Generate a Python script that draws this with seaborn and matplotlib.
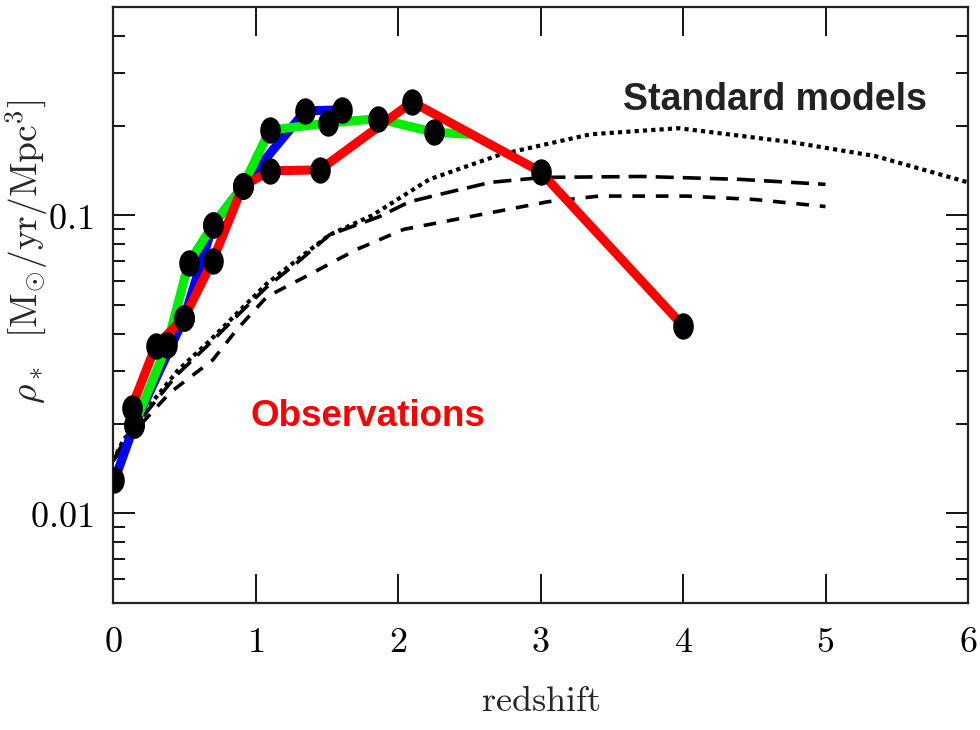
import numpy as np
import pandas as pd
import matplotlib
matplotlib.use("Agg")
import matplotlib.pyplot as plt
from matplotlib.path import Path
from matplotlib.ticker import FixedLocator, FixedFormatter, LogLocator, NullFormatter
import seaborn as sns

# ---------------- data ----------------
blue_z = [0.01, 0.15, 0.50, 0.70, 0.91, 1.35, 1.61]
blue_sfr = [0.0129, 0.0198, 0.0453, 0.0925, 0.125, 0.224, 0.226]

green_z = [0.15, 0.38, 0.53, 0.70, 0.91, 1.10, 1.51, 1.86, 2.25, 2.50]
green_sfr = [0.0198, 0.0367, 0.069, 0.0925, 0.125, 0.193, 0.204, 0.211, 0.190, 0.187]
green_dot = [True, True, True, True, True, True, True, True, True, False]

red_z = [0.13, 0.30, 0.50, 0.70, 0.91, 1.10, 1.45, 2.10, 3.00, 4.00]
red_sfr = [0.0226, 0.0365, 0.0453, 0.0705, 0.125, 0.141, 0.142, 0.240, 0.140, 0.0426]

dotted_z = [0.0, 0.07, 0.24, 0.45, 0.68, 0.91, 1.08, 1.31, 1.52, 1.82, 2.22, 2.72,
            3.35, 3.97, 4.76, 5.35, 6.0]
dotted_sfr = [0.0150, 0.0175, 0.0225, 0.0300, 0.0380, 0.0490, 0.0590, 0.0720, 0.0860,
              0.100, 0.132, 0.160, 0.187, 0.196, 0.176, 0.158, 0.129]

dash1_z = [0.0, 0.07, 0.24, 0.45, 0.68, 0.91, 1.08, 1.31, 1.52, 1.87, 2.08, 2.34,
           2.65, 3.02, 3.71, 4.40, 5.0]
dash1_sfr = [0.0150, 0.0172, 0.0220, 0.0292, 0.0372, 0.0480, 0.0575, 0.0705, 0.0860,
             0.099, 0.111, 0.119, 0.129, 0.134, 0.135, 0.132, 0.127]

dash2_z = [0.0, 0.20, 0.40, 0.70, 0.87, 1.08, 1.38, 1.71, 2.04, 2.41, 3.05, 3.41,
           4.03, 4.50, 5.0]
dash2_sfr = [0.0150, 0.0200, 0.0254, 0.0327, 0.0414, 0.0533, 0.0633, 0.0768, 0.0897,
             0.097, 0.111, 0.116, 0.116, 0.113, 0.107]

x_ticks = [0, 1, 2, 3, 4, 5, 6]
y_major = [0.01, 0.1]
y_major_labels = ["$0.01$", "$0.1$"]

# ---------------- style ----------------
sns.set_theme(style="ticks")
plt.rcParams["mathtext.fontset"] = "cm"
plt.rcParams["font.family"] = ["DejaVu Sans"]

fig = plt.figure(figsize=(9.8, 7.3), dpi=100)
ax = fig.add_axes([113 / 980, 1 - 603 / 730, (968 - 113) / 980, (603 - 7) / 730])

def frame(z, v, name):
    return pd.DataFrame({"z": z, "sfr": v, "series": name})

# model curves
sns.lineplot(data=frame(dotted_z, dotted_sfr, "dot"), x="z", y="sfr", ax=ax,
             color="black", lw=3.0, linestyle=(0, (1.0, 1.0)), sort=False,
             estimator=None, zorder=2)
sns.lineplot(data=frame(dash1_z, dash1_sfr, "d1"), x="z", y="sfr", ax=ax,
             color="black", lw=2.6, linestyle=(0, (5.0, 2.5)), sort=False,
             estimator=None, zorder=2)
sns.lineplot(data=frame(dash2_z, dash2_sfr, "d2"), x="z", y="sfr", ax=ax,
             color="black", lw=2.6, linestyle=(0, (3.5, 3.0)), sort=False,
             estimator=None, zorder=2)

# observations
for z, v, c, zo in [(blue_z, blue_sfr, "#0000ff", 3),
                    (green_z, green_sfr, "#00ee00", 4),
                    (red_z, red_sfr, "#ff0000", 5)]:
    sns.lineplot(data=frame(z, v, c), x="z", y="sfr", ax=ax, color=c, lw=6.5,
                 sort=False, estimator=None, zorder=zo,
                 solid_capstyle="round", solid_joinstyle="round")

# black elliptical dots
theta = np.linspace(0, 2 * np.pi, 40)
ellipse = Path(np.column_stack([0.39 * np.cos(theta), 0.5 * np.sin(theta)]), closed=True)
dots = pd.concat([
    frame(blue_z, blue_sfr, "b"),
    frame([z for z, d in zip(green_z, green_dot) if d],
          [v for v, d in zip(green_sfr, green_dot) if d], "g"),
    frame(red_z, red_sfr, "r"),
])
sns.scatterplot(data=dots, x="z", y="sfr", ax=ax, marker=ellipse, s=19 ** 2,
                color="black", edgecolor="black", linewidth=0, zorder=6)

# axes
ax.set_yscale("log")
ax.set_xlim(0, 6)
ax.set_ylim(0.005, 0.5)
ax.xaxis.set_major_locator(FixedLocator(x_ticks))
ax.xaxis.set_major_formatter(FixedFormatter([f"${t}$" for t in x_ticks]))
ax.xaxis.set_minor_locator(FixedLocator([]))
ax.yaxis.set_major_locator(FixedLocator(y_major))
ax.yaxis.set_major_formatter(FixedFormatter(y_major_labels))
ax.yaxis.set_minor_locator(LogLocator(base=10, subs=np.arange(2, 10)))
ax.yaxis.set_minor_formatter(NullFormatter())

ax.tick_params(axis="both", which="both", direction="in", top=True, right=True,
               left=True, bottom=True, colors="black", width=1.3)
ax.tick_params(axis="x", which="major", length=21, pad=16, labelsize=26)
ax.tick_params(axis="y", which="major", length=16, pad=14, labelsize=26)
ax.tick_params(axis="y", which="minor", length=8.5, width=1.3)
for s in ax.spines.values():
    s.set_color("#222222")
    s.set_linewidth(1.6)
    s.set_visible(True)

ax.set_xlabel(r"$\mathrm{redshift}$", fontsize=26, labelpad=18)
ax.set_ylabel(r"$\rho_*\ \ [\mathrm{M}_{\odot}/\mathrm{yr}/\mathrm{Mpc}^{3}]$",
              fontsize=27)
ax.yaxis.set_label_coords((50 - 113) / 855, (603 - 252) / 596)

fig.text(775 / 980, 1 - 100 / 730, "Standard models", fontsize=27, fontweight="bold",
         color="#222222", ha="center", va="center", family="Liberation Sans")
fig.text(368 / 980, 1 - 416 / 730, "Observations", fontsize=26.5, fontweight="bold",
         color="#ff0000", ha="center", va="center", family="Liberation Sans")

fig.savefig("out.png", dpi=100, facecolor="white")
